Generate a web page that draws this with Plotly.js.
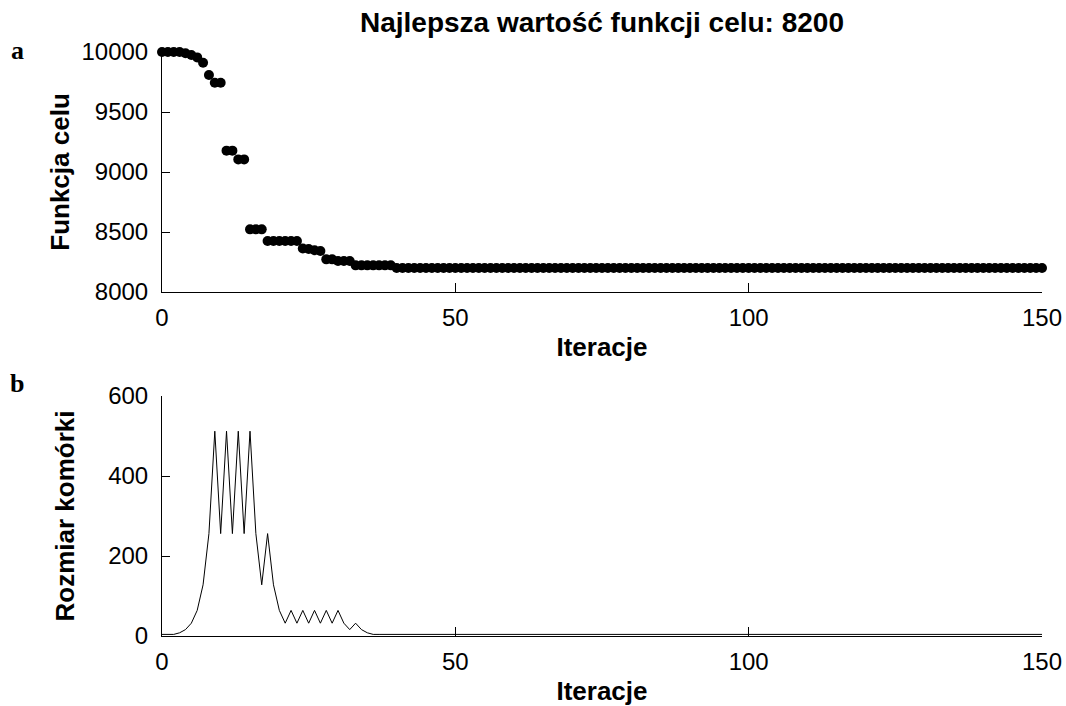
<!DOCTYPE html>
<html>
<head>
<meta charset="utf-8">
<script src="https://cdn.plot.ly/plotly-3.0.1.min.js"></script>
<style>html,body{margin:0;padding:0;background:#fff;}#chart{width:1066px;height:706px;}</style>
</head>
<body>
<div id="chart"></div>
<script>
// Panel a: best objective value per iteration (0..150)
const objectiveHead = [10000, 10000, 10000, 10000, 9990, 9975, 9955, 9910, 9808, 9744,
  9744, 9178, 9178, 9105, 9105, 8522, 8522, 8522, 8425, 8425,
  8425, 8425, 8425, 8425, 8362, 8358, 8348, 8342, 8272, 8272,
  8258, 8258, 8258, 8222, 8222, 8222, 8222, 8222, 8222, 8222];
const objectiveTailValue = 8200;   // iterations 40..150
// Panel b: cell size per iteration (0..150)
const cellHead = [4, 4, 4, 8, 16, 32, 64, 128, 256, 512,
  256, 512, 256, 512, 256, 512, 256, 128, 256, 128,
  64, 32, 64, 32, 64, 32, 64, 32, 64, 32,
  64, 32, 16, 32, 16, 8];
const cellTailValue = 4;           // iterations 36..150
const lastIteration = 150;
const xTicks = [0, 50, 100, 150];
const yTicksA = [8000, 8500, 9000, 9500, 10000];
const yTicksB = [0, 200, 400, 600];
const titleText = 'Najlepsza wartość funkcji celu: 8200';

const iters = [], objective = [], cell = [];
for (let i = 0; i <= lastIteration; i++) {
  iters.push(i);
  objective.push(i < objectiveHead.length ? objectiveHead[i] : objectiveTailValue);
  cell.push(i < cellHead.length ? cellHead[i] : cellTailValue);
}

const FONT = 'Liberation Sans, Arial, Helvetica, sans-serif';
const tickFont = {family: FONT, size: 24, color: '#000'};
const titleFont = {family: FONT, size: 26, color: '#000', weight: 700};

function xAxis(anchor) {
  return {
    anchor: anchor, range: [0, 150], tickvals: xTicks, ticktext: xTicks.map(String),
    showgrid: false, zeroline: false, showline: true, linecolor: '#000', linewidth: 1,
    ticks: 'inside', ticklen: 9, tickcolor: '#000', tickwidth: 1,
    tickfont: tickFont, ticklabelstandoff: 4,
    title: {text: 'Iteracje', font: titleFont, standoff: 8}
  };
}
function yAxis(domain, range, ticks, title, standoff) {
  return {
    domain: domain, range: range, tickvals: ticks, ticktext: ticks.map(String),
    showgrid: false, zeroline: false, showline: true, linecolor: '#000', linewidth: 1,
    ticks: 'inside', ticklen: 8, tickcolor: '#000', tickwidth: 1, tickfont: tickFont, ticklabelstandoff: 8,
    title: {text: title, font: titleFont, standoff: standoff}
  };
}

const data = [
  {x: iters, y: objective, xaxis: 'x', yaxis: 'y', type: 'scatter', mode: 'markers',
   marker: {color: '#000', size: 10}, cliponaxis: false, hoverinfo: 'x+y'},
  {x: iters, y: cell, xaxis: 'x2', yaxis: 'y2', type: 'scatter', mode: 'lines',
   line: {color: '#000', width: 1}, cliponaxis: false, hoverinfo: 'x+y'}
];

const layout = {
  width: 1066, height: 706,
  margin: {l: 162, r: 24, t: 52, b: 70},
  paper_bgcolor: '#fff', plot_bgcolor: '#fff',
  showlegend: false,
  title: {text: titleText, font: Object.assign({}, titleFont, {size: 28}), x: 0.5, xref: 'paper', xanchor: 'center',
          y: 1 - 22 / 706, yref: 'container', yanchor: 'middle'},
  xaxis: Object.assign(xAxis('y'), {domain: [0, 1]}),
  yaxis: yAxis([344 / 584, 1], [8000, 10000], yTicksA, 'Funkcja celu', 4),
  xaxis2: Object.assign(xAxis('y2'), {domain: [0, 1]}),
  yaxis2: yAxis([0, 240 / 584], [0, 600], yTicksB, 'Rozmiar komórki', 26),
  annotations: [
    {text: 'a', xref: 'paper', yref: 'paper', x: (17 - 162) / 880, y: (636 - 50) / 584,
     xanchor: 'center', yanchor: 'middle', showarrow: false,
     font: {family: 'Liberation Serif, Times New Roman, serif', size: 26, color: '#000', weight: 700}},
    {text: 'b', xref: 'paper', yref: 'paper', x: (17 - 162) / 880, y: (636 - 383) / 584,
     xanchor: 'center', yanchor: 'middle', showarrow: false,
     font: {family: 'Liberation Serif, Times New Roman, serif', size: 26, color: '#000', weight: 700}}
  ]
};

Plotly.newPlot('chart', data, layout, {displayModeBar: false, staticPlot: true});
</script>
</body>
</html>
